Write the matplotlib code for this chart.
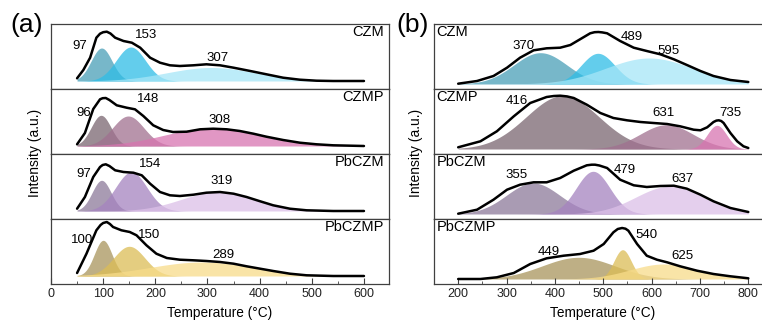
import numpy as np
import matplotlib
matplotlib.use("Agg")
import matplotlib.pyplot as plt

plt.rcParams['font.family'] = ['Liberation Sans', 'DejaVu Sans']

SAMPLES = ["CZM", "CZMP", "PbCZM", "PbCZMP"]

# ---- panel (a): measured profiles (temperature, intensity) ----
A_CZM_T = [50, 62, 75, 87, 94, 100, 107, 114, 123, 139, 155, 171, 190, 209,
           228, 247, 273, 298, 324, 350, 382, 413, 445, 477, 509, 541, 600]
A_CZM_I = [2.7, 11, 23.3, 43.3, 47.3, 48.8, 49.3, 47.5, 43.3, 40, 38.3, 33.3,
           23.3, 18.3, 15.7, 15, 15.7, 16.7, 15.7, 13.3, 10, 6.7, 3.3, 1.3,
           0.3, 0, 0]
A_CZMP_T = [50, 65, 81, 94, 99, 105, 112, 126, 145, 161, 177, 196, 215, 234,
            260, 286, 311, 337, 362, 388, 413, 445, 477, 509, 541, 600]
A_CZMP_I = [1.7, 13, 37, 46.7, 47.8, 48, 46, 40.7, 38.3, 36.7, 30, 20.7, 16,
            14, 14.3, 16.7, 17.3, 16.7, 15, 12.3, 9.3, 6, 3.3, 1.7, 0.7, 0]
A_PBCZM_T = [50, 65, 81, 94, 99, 105, 112, 123, 139, 158, 174, 190, 209, 228,
             247, 273, 298, 324, 350, 375, 401, 426, 458, 490, 541, 600]
A_PBCZM_I = [2.3, 14, 34, 44, 46, 46.7, 45, 40.7, 39, 38.3, 35.7, 27.3, 19,
             15.7, 15, 16.3, 18.3, 19, 17.3, 14, 9.7, 5.7, 2.3, 0.7, 0, 0]
A_PBCZMP_T = [50, 68, 87, 95, 100, 107, 113, 119, 135, 151, 164, 183, 202,
              222, 247, 273, 298, 324, 350, 375, 401, 426, 458, 490, 541, 600]
A_PBCZMP_I = [3, 22.3, 45.7, 51, 53, 54, 52, 49, 45.7, 44, 40.7, 30.7, 22.3,
              18, 16.3, 15.7, 15, 14, 12.3, 9.7, 7.3, 5, 2.3, 0.7, 0, 0]

# ---- panel (a): fitted peaks (centre, height, width) ----
A_CZM_CENTERS = [97, 153, 307]
A_CZM_HEIGHTS = [33, 34, 13.5]
A_CZM_SIGMAS = [20, 28, 85]
A_CZMP_CENTERS = [96, 148, 308]
A_CZMP_HEIGHTS = [30.7, 30, 18]
A_CZMP_SIGMAS = [19, 30, 90]
A_PBCZM_CENTERS = [97, 154, 319]
A_PBCZM_HEIGHTS = [30.7, 39, 19]
A_PBCZM_SIGMAS = [18, 30, 70]
A_PBCZMP_CENTERS = [100, 150, 289]
A_PBCZMP_HEIGHTS = [35.7, 29.7, 14]
A_PBCZMP_SIGMAS = [17, 30, 100]

# ---- panel (b): measured profiles ----
B_CZM_T = [200, 239, 273, 301, 328, 356, 383, 411, 432, 452, 473, 482, 490,
           498, 508, 535, 563, 590, 618, 646, 673, 701, 728, 763, 800]
B_CZM_I = [0.3, 3, 8, 16.3, 26.3, 33.7, 35.7, 36.3, 39, 44.7, 50.7, 51.8, 52,
           51.6, 50.7, 43, 36.3, 33, 29.7, 24.7, 19, 13, 8, 4, 2]
B_CZMP_T = [200, 246, 280, 315, 349, 383, 398, 411, 425, 439, 466, 494, 521,
            549, 577, 604, 632, 659, 687, 701, 715, 728, 734, 739, 744, 749,
            763, 777, 790, 800]
B_CZMP_I = [1.7, 7.7, 17.7, 32.7, 46, 52, 53, 53.3, 52.6, 51, 44.3, 36, 31,
            28.7, 27, 26, 25, 22.7, 19.3, 18.7, 21.7, 27, 28.4, 28.7, 28, 26,
            16, 7.7, 2.7, 1]
B_PBCZM_T = [200, 239, 273, 301, 328, 356, 383, 411, 439, 466, 476, 483, 492,
             508, 535, 563, 590, 618, 646, 673, 701, 728, 763, 800]
B_PBCZM_I = [0.3, 4.3, 14.3, 24.3, 29.3, 31.7, 31.7, 36, 43.3, 48.7, 49.3,
             49.3, 48.5, 46, 34.3, 28.7, 27, 28, 28.3, 25.3, 19.3, 12.7, 6, 2]
B_PBCZMP_T = [200, 246, 280, 315, 349, 383, 418, 452, 480, 501, 521, 530, 539,
              546, 552, 570, 590, 611, 632, 659, 694, 728, 763, 800]
B_PBCZMP_I = [0, 0, 1.7, 6, 15, 20.7, 23.3, 25, 28.3, 35, 46.7, 50, 51, 50.3,
              48.3, 35, 23.3, 19.3, 16.7, 12.7, 8.3, 5, 2.7, 0.7]

# ---- panel (b): fitted peaks ----
B_CZM_CENTERS = [370, 489, 595]
B_CZM_HEIGHTS = [31.3, 30.7, 26]
B_CZM_SIGMAS = [55, 35, 90]
B_CZMP_CENTERS = [416, 631, 735]
B_CZMP_HEIGHTS = [53.3, 24.3, 23.7]
B_CZMP_SIGMAS = [75, 55, 20]
B_PBCZM_CENTERS = [355, 479, 637]
B_PBCZM_HEIGHTS = [31, 42.7, 27.7]
B_PBCZM_SIGMAS = [55, 35, 70]
B_PBCZMP_CENTERS = [449, 540, 625]
B_PBCZMP_HEIGHTS = [21.7, 29.3, 15]
B_PBCZMP_SIGMAS = [75, 18, 70]

# peak colours per sample
COLORS = [
    ['#4a9fb8', '#2fbde6', '#a6e6f7'],
    ['#7a6670', '#a0708f', '#d874b0'],
    ['#8c7a9a', '#a583c0', '#dcc0e8'],
    ['#a8955c', '#dcbd55', '#f8dc8a'],
]

# label positions (x, y) for the peak numbers
A_LABEL_POS = [
    [(56, 35), (183, 45.7), (320, 22.7)],
    [(62, 33.3), (186, 47.3), (324, 26)],
    [(62, 37.3), (190, 46.7), (327, 30)],
    [(59, 35.7), (188, 40.7), (330, 20.7)],
]
B_LABEL_POS = [
    [(335, 38), (559, 47), (635, 33)],
    [(321, 47.7), (625, 36), (763, 36)],
    [(321, 38.7), (545, 44.3), (663, 35.3)],
    [(387, 27.3), (590, 44), (663, 23.3)],
]

A_PROFILES = [(A_CZM_T, A_CZM_I), (A_CZMP_T, A_CZMP_I),
              (A_PBCZM_T, A_PBCZM_I), (A_PBCZMP_T, A_PBCZMP_I)]
A_PEAKS = [(A_CZM_CENTERS, A_CZM_HEIGHTS, A_CZM_SIGMAS),
           (A_CZMP_CENTERS, A_CZMP_HEIGHTS, A_CZMP_SIGMAS),
           (A_PBCZM_CENTERS, A_PBCZM_HEIGHTS, A_PBCZM_SIGMAS),
           (A_PBCZMP_CENTERS, A_PBCZMP_HEIGHTS, A_PBCZMP_SIGMAS)]
B_PROFILES = [(B_CZM_T, B_CZM_I), (B_CZMP_T, B_CZMP_I),
              (B_PBCZM_T, B_PBCZM_I), (B_PBCZMP_T, B_PBCZMP_I)]
B_PEAKS = [(B_CZM_CENTERS, B_CZM_HEIGHTS, B_CZM_SIGMAS),
           (B_CZMP_CENTERS, B_CZMP_HEIGHTS, B_CZMP_SIGMAS),
           (B_PBCZM_CENTERS, B_PBCZM_HEIGHTS, B_PBCZM_SIGMAS),
           (B_PBCZMP_CENTERS, B_PBCZMP_HEIGHTS, B_PBCZMP_SIGMAS)]

W, H = 762, 320
SPINE = '#404040'


def draw_panel(fig, left_px, profiles, peaks, label_pos, trange, xlim, ylim,
               majors, minors, name_side):
    row_h = 65
    top = 24
    axes = []
    for i in range(4):
        y0 = top + row_h * (i + 1)
        ax = fig.add_axes([left_px / W, 1 - y0 / H, 338 / W, row_h / H])
        x = np.linspace(trange[0], trange[1], 400)
        centers, heights, sigmas = peaks[i]
        for c, h, s, col in zip(centers, heights, sigmas, COLORS[i]):
            y = h * np.exp(-0.5 * ((x - c) / s) ** 2)
            ax.fill_between(x, 0, y, color=col, alpha=0.75, lw=0)
        T, I = profiles[i]
        ax.plot(T, I, color='black', lw=1.8, solid_capstyle='round',
                solid_joinstyle='round')
        for c, (lx, ly) in zip(centers, label_pos[i]):
            ax.text(lx, ly, str(c), ha='center', va='center', fontsize=9.5)
        if name_side == 'right':
            ax.text(0.985, 0.87, SAMPLES[i], transform=ax.transAxes,
                    ha='right', va='center', fontsize=10.5)
        else:
            ax.text(0.008, 0.87, SAMPLES[i], transform=ax.transAxes,
                    ha='left', va='center', fontsize=10.5)
        ax.set_xlim(*xlim)
        ax.set_ylim(*ylim)
        ax.set_yticks([])
        for sp in ax.spines.values():
            sp.set_color(SPINE)
            sp.set_linewidth(0.9)
        if i < 3:
            ax.set_xticks([])
        else:
            ax.set_xticks(majors)
            ax.set_xticks(minors, minor=True)
            ax.tick_params(axis='x', which='both', direction='in',
                           colors=SPINE, labelcolor='#222222', labelsize=9)
            ax.tick_params(axis='x', which='major', length=4, pad=3)
            ax.tick_params(axis='x', which='minor', length=2.5)
            ax.set_xlabel("Temperature (°C)", fontsize=9.8, labelpad=4)
        axes.append(ax)
    return axes


def main():
    fig = plt.figure(figsize=(W / 100, H / 100), dpi=100)
    draw_panel(fig, 51, A_PROFILES, A_PEAKS, A_LABEL_POS, (50, 600),
               (0, 648), (-8, 57), np.arange(0, 601, 100),
               np.arange(50, 600, 100), 'right')
    draw_panel(fig, 434, B_PROFILES, B_PEAKS, B_LABEL_POS, (200, 800),
               (150, 849), (-5, 60), np.arange(200, 801, 100),
               np.arange(250, 800, 100), 'left')
    fig.text(35 / W, 1 - 153 / H, "Intensity (a.u.)", rotation=90,
             ha='center', va='center', fontsize=10)
    fig.text(416 / W, 1 - 153 / H, "Intensity (a.u.)", rotation=90,
             ha='center', va='center', fontsize=10)
    fig.text(27 / W, 1 - 25 / H, "(a)", ha='center', va='center', fontsize=19)
    fig.text(413 / W, 1 - 25 / H, "(b)", ha='center', va='center', fontsize=19)
    fig.savefig("out.png", dpi=100)


if __name__ == "__main__":
    main()
